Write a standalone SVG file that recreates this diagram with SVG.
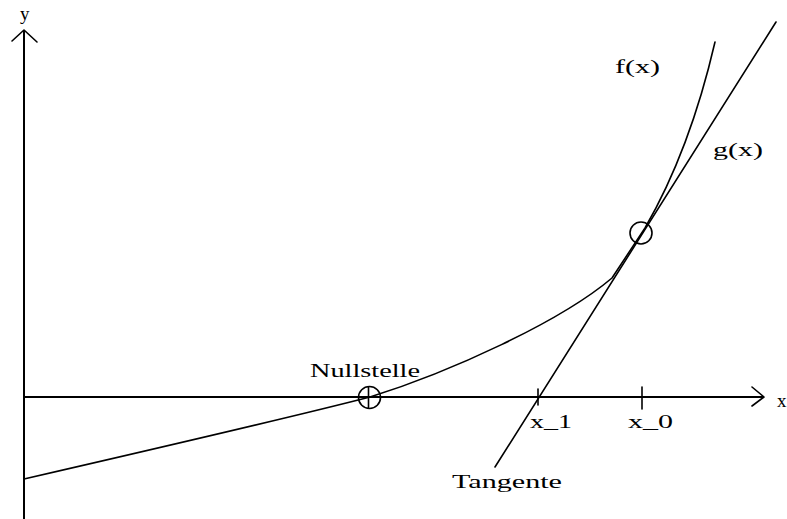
<svg xmlns="http://www.w3.org/2000/svg" width="787" height="519" viewBox="0 0 787 519">
<style>
.ln{fill:none;stroke:#000;stroke-width:1.6;stroke-linecap:round;stroke-linejoin:round}
.ax{fill:none;stroke:#000;stroke-width:2}
.t{font-family:"Liberation Serif","DejaVu Serif",serif;font-size:19px;fill:#000}
</style>
<rect width="787" height="519" fill="#fff"/>
<g id="axes">
<line class="ax" x1="24" y1="30" x2="24" y2="519"/>
<polyline class="ln" points="12,41 24,30 37,42"/>
<line class="ax" x1="24" y1="397" x2="764" y2="397"/>
<polyline class="ln" points="752,387 764,397 752,406"/>
<line class="ln" x1="642" y1="387" x2="642" y2="409"/>
<line class="ln" x1="538" y1="389" x2="538" y2="405"/>
</g>
<g id="curves">
<path id="f" class="ln" d="M24,479 C150,450 300,415 370,397 C450,372 560,322 612,278 L645,228 Q690,150 715,42"/>
<line id="g" class="ln" x1="495" y1="467" x2="776" y2="22"/>
</g>
<g id="points">
<circle class="ln" cx="369.5" cy="397.5" r="11"/>
<line class="ln" x1="368.5" y1="387" x2="368.5" y2="408"/>
<circle class="ln" cx="641" cy="233" r="11"/>
</g>
<g id="labels">
<text class="t" x="20" y="20">y</text>
<text class="t" x="777" y="407">x</text>
<text class="t" x="615" y="73" textLength="45" lengthAdjust="spacingAndGlyphs">f(x)</text>
<text class="t" x="713" y="156" textLength="50" lengthAdjust="spacingAndGlyphs">g(x)</text>
<text class="t" x="310" y="377" textLength="110" lengthAdjust="spacingAndGlyphs">Nullstelle</text>
<text class="t" x="530" y="428" textLength="42" lengthAdjust="spacingAndGlyphs">x_1</text>
<text class="t" x="628" y="428" textLength="45" lengthAdjust="spacingAndGlyphs">x_0</text>
<text class="t" x="452" y="488" textLength="110" lengthAdjust="spacingAndGlyphs">Tangente</text>
</g>
</svg>
